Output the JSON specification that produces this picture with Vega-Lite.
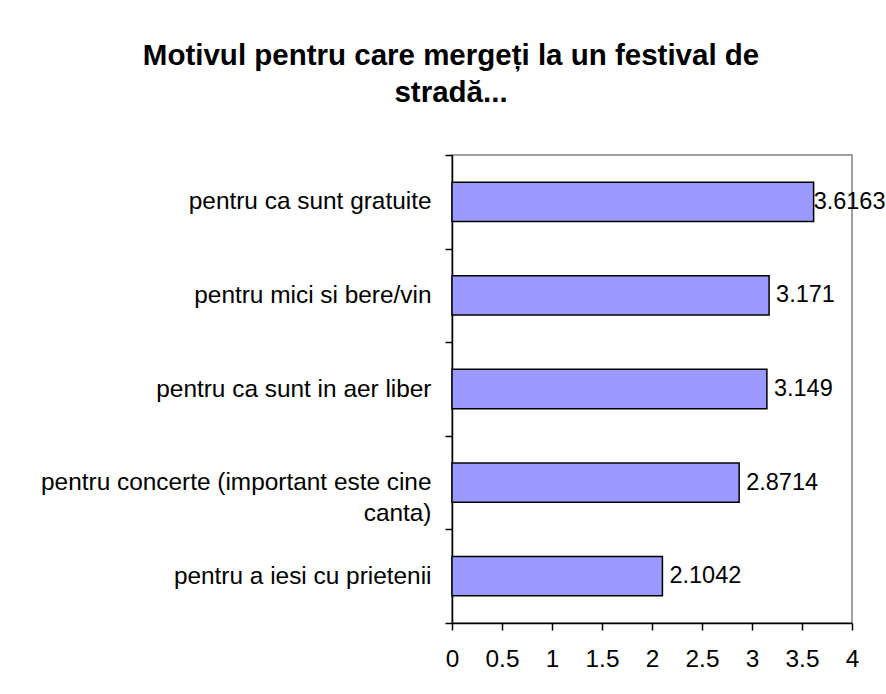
{
  "$schema": "https://vega.github.io/schema/vega-lite/v6.json",
  "width": 400,
  "height": 468,
  "padding": {"left": 40, "top": 40, "right": 5, "bottom": 5},
  "background": "white",
  "title": {
    "text": ["Motivul pentru care mergeți la un festival de", "stradă..."],
    "anchor": "middle",
    "frame": "bounds",
    "font": "Liberation Sans",
    "fontSize": 29.5,
    "fontWeight": "bold",
    "lineHeight": 37,
    "color": "black",
    "offset": 34,
    "dx": -12
  },
  "data": {
    "values": [
      {"motiv": "pentru ca sunt gratuite", "valoare": 3.6163},
      {"motiv": "pentru mici si bere/vin", "valoare": 3.171},
      {"motiv": "pentru ca sunt in aer liber", "valoare": 3.149},
      {"motiv": "pentru concerte (important este cine canta)", "valoare": 2.8714},
      {"motiv": "pentru a iesi cu prietenii", "valoare": 2.1042}
    ]
  },
  "encoding": {
    "y": {
      "field": "motiv",
      "type": "nominal",
      "sort": null,
      "scale": {"paddingInner": 0, "paddingOuter": 0},
      "axis": {
        "title": null,
        "labelFont": "Liberation Sans",
        "labelFontSize": 24.4,
        "labelColor": "black",
        "labelLimit": 600,
        "labelPadding": 14,
        "labelLineHeight": 31,
        "labelExpr": "datum.label == 'pentru concerte (important este cine canta)' ? ['pentru concerte (important este cine', 'canta)'] : datum.label",
        "tickBand": "extent",
        "tickSize": 7,
        "tickColor": "black",
        "tickWidth": 1.5,
        "domainColor": "black",
        "domainWidth": 1.5
      }
    },
    "x": {
      "field": "valoare",
      "type": "quantitative",
      "scale": {"domain": [0, 4], "nice": false},
      "axis": {
        "title": null,
        "values": [0, 0.5, 1, 1.5, 2, 2.5, 3, 3.5, 4],
        "format": ".1~f",
        "grid": false,
        "labelFont": "Liberation Sans",
        "labelFontSize": 24.4,
        "labelColor": "black",
        "labelPadding": 17,
        "labelFlush": false,
        "tickSize": 7,
        "tickColor": "black",
        "tickWidth": 1.5,
        "domainColor": "black",
        "domainWidth": 1.5
      }
    }
  },
  "layer": [
    {
      "mark": {"type": "bar", "height": {"band": 0.42}, "fill": "#9999FF", "stroke": "black", "strokeWidth": 1.5}
    },
    {
      "transform": [{"filter": "datum.valoare < 3.5"}],
      "mark": {"type": "text", "align": "left", "baseline": "middle", "dx": 7, "font": "Liberation Sans", "fontSize": 23.5, "color": "black"},
      "encoding": {"text": {"field": "valoare", "type": "quantitative"}}
    },
    {
      "transform": [{"filter": "datum.valoare >= 3.5"}],
      "mark": {"type": "text", "align": "left", "baseline": "middle", "dx": 0, "font": "Liberation Sans", "fontSize": 23.5, "color": "black"},
      "encoding": {"text": {"field": "valoare", "type": "quantitative"}}
    }
  ],
  "config": {
    "view": {"stroke": "#808080", "strokeWidth": 1.5}
  }
}
